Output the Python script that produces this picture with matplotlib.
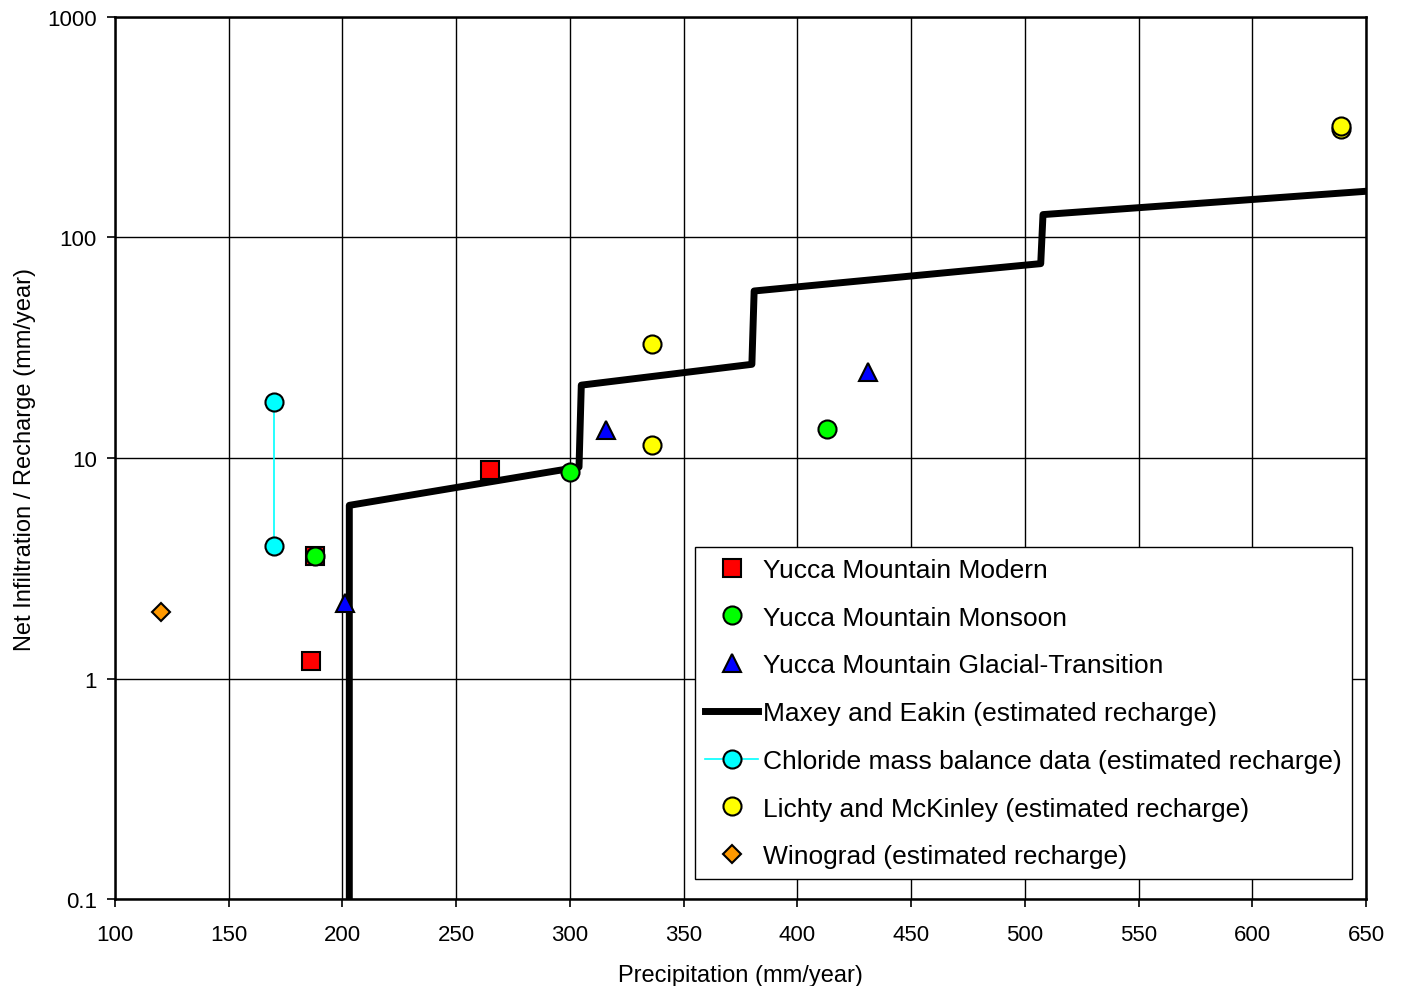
import matplotlib.pyplot as plt
from matplotlib.ticker import FixedLocator, FixedFormatter, NullLocator

plt.rcParams['font.family'] = ['Liberation Sans', 'DejaVu Sans']

# Yucca Mountain infiltration estimates (precip mm/yr, infiltration mm/yr)
modern_x = [186, 188, 265]
modern_y = [1.2, 3.6, 8.8]
monsoon_x = [188, 300, 413]
monsoon_y = [3.6, 8.6, 13.5]
glacial_x = [201, 316, 431]
glacial_y = [2.2, 13.4, 24.5]

# Maxey and Eakin stepwise recharge curve
maxey_x = [203, 203, 304, 305, 380, 381, 507, 508, 650]
maxey_y = [0.01, 6.1, 9.1, 21.4, 26.6, 57.2, 76.1, 127, 162]

chloride_x = [170, 170]
chloride_y = [18, 4.0]
lichty_x = [336, 336, 639, 639]
lichty_y = [32.9, 11.5, 310, 320]
winograd_x = [120]
winograd_y = [2.0]

xticks = [100, 150, 200, 250, 300, 350, 400, 450, 500, 550, 600, 650]
yticks = [0.1, 1, 10, 100, 1000]
ytick_labels = ['0.1', '1', '10', '100', '1000']

fig = plt.figure(figsize=(14.03, 9.87), dpi=100)
ax = fig.add_axes([0.082, 0.0881, 0.8916, 0.8937])

ms = 13
mew = 1.5
ax.plot(maxey_x, maxey_y, color='black', lw=5, zorder=3,
        label='Maxey and Eakin (estimated recharge)')
ax.plot(modern_x, modern_y, ls='none', marker='s', ms=ms, mfc='#ff0000',
        mec='black', mew=mew, zorder=4, label='Yucca Mountain Modern')
ax.plot(monsoon_x, monsoon_y, ls='none', marker='o', ms=ms, mfc='#00ff00',
        mec='black', mew=mew, zorder=4, label='Yucca Mountain Monsoon')
ax.plot(glacial_x, glacial_y, ls='none', marker='^', ms=ms, mfc='#0000ff',
        mec='black', mew=mew, zorder=4, label='Yucca Mountain Glacial-Transition')
ax.plot(chloride_x, chloride_y, color='#00ffff', lw=1.2, marker='o', ms=ms,
        mfc='#00ffff', mec='black', mew=mew, zorder=4,
        label='Chloride mass balance data (estimated recharge)')
ax.plot(lichty_x, lichty_y, ls='none', marker='o', ms=ms, mfc='#ffff00',
        mec='black', mew=mew, zorder=4,
        label='Lichty and McKinley (estimated recharge)')
ax.plot(winograd_x, winograd_y, ls='none', marker='D', ms=9.5, mfc='#ff9900',
        mec='black', mew=mew, zorder=4, label='Winograd (estimated recharge)')

ax.set_yscale('log')
ax.set_xlim(100, 650)
ax.set_ylim(0.1, 1000)
ax.set_xticks(xticks)
ax.yaxis.set_major_locator(FixedLocator(yticks))
ax.yaxis.set_major_formatter(FixedFormatter(ytick_labels))
ax.yaxis.set_minor_locator(NullLocator())
ax.tick_params(axis='both', direction='out', length=6, width=1.2,
               labelsize=16, color='black')
ax.tick_params(axis='x', pad=12)
ax.tick_params(axis='y', pad=7)
ax.grid(True, color='black', lw=1)
ax.set_axisbelow(True)
for sp in ax.spines.values():
    sp.set_linewidth(1.8)

ax.set_xlabel('Precipitation (mm/year)', fontsize=17, labelpad=14)
ax.set_ylabel('Net Infiltration / Recharge (mm/year)', fontsize=17, labelpad=8)

handles, labels = ax.get_legend_handles_labels()
order = [1, 2, 3, 0, 4, 5, 6]
leg = ax.legend([handles[i] for i in order], [labels[i] for i in order],
                loc='lower right', bbox_to_anchor=(0.9888, 0.0227),
                borderaxespad=0, fontsize=19, frameon=True, fancybox=False,
                edgecolor='black', framealpha=1, labelspacing=0.9,
                handlelength=2.0, handletextpad=0.18, borderpad=0.4)
leg.get_frame().set_linewidth(1.0)

fig.savefig('out.png', dpi=100)
